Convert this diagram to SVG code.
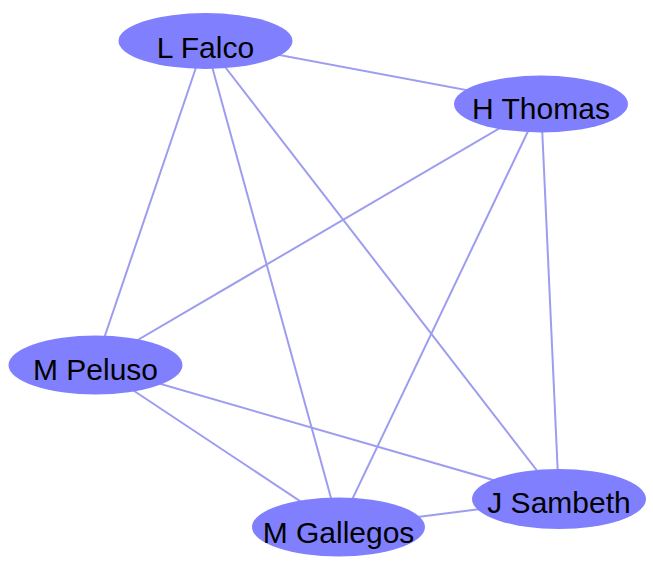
<svg xmlns="http://www.w3.org/2000/svg" width="653" height="572" viewBox="0 0 653 572">
<style>
.e{stroke:#9d9df0;stroke-width:2;fill:none}
.n ellipse{fill:#8080ff;stroke:none}
.n text{font-family:"Liberation Sans",Arial,sans-serif;font-size:30px;fill:#000;text-anchor:middle}
</style>
<rect width="653" height="572" fill="#fff"/>
<g id="edges">
<line class="e" x1="205" y1="41" x2="541" y2="104"/>
<line class="e" x1="205" y1="41" x2="95" y2="365"/>
<line class="e" x1="205" y1="41" x2="339" y2="527"/>
<line class="e" x1="205" y1="41" x2="559" y2="499"/>
<line class="e" x1="541" y1="104" x2="95" y2="365"/>
<line class="e" x1="541" y1="104" x2="339" y2="527"/>
<line class="e" x1="541" y1="104" x2="559" y2="499"/>
<line class="e" x1="95" y1="365" x2="339" y2="527"/>
<line class="e" x1="95" y1="365" x2="559" y2="499"/>
<line class="e" x1="339" y1="527" x2="559" y2="499"/>
</g>
<g id="lfalco" class="n"><ellipse cx="205.5" cy="41" rx="87" ry="28"/><text x="205.5" y="57.5">L Falco</text></g>
<g id="hthomas" class="n"><ellipse cx="541" cy="104" rx="87" ry="28.5"/><text x="541" y="118.5">H Thomas</text></g>
<g id="mpeluso" class="n"><ellipse cx="95.5" cy="365" rx="87" ry="29.5"/><text x="95.5" y="379.5">M Peluso</text></g>
<g id="mgallegos" class="n"><ellipse cx="338.5" cy="527" rx="86.5" ry="29.5"/><text x="338.5" y="542.5">M Gallegos</text></g>
<g id="jsambeth" class="n"><ellipse cx="559" cy="499" rx="87" ry="30"/><text x="559" y="512.5">J Sambeth</text></g>
</svg>
